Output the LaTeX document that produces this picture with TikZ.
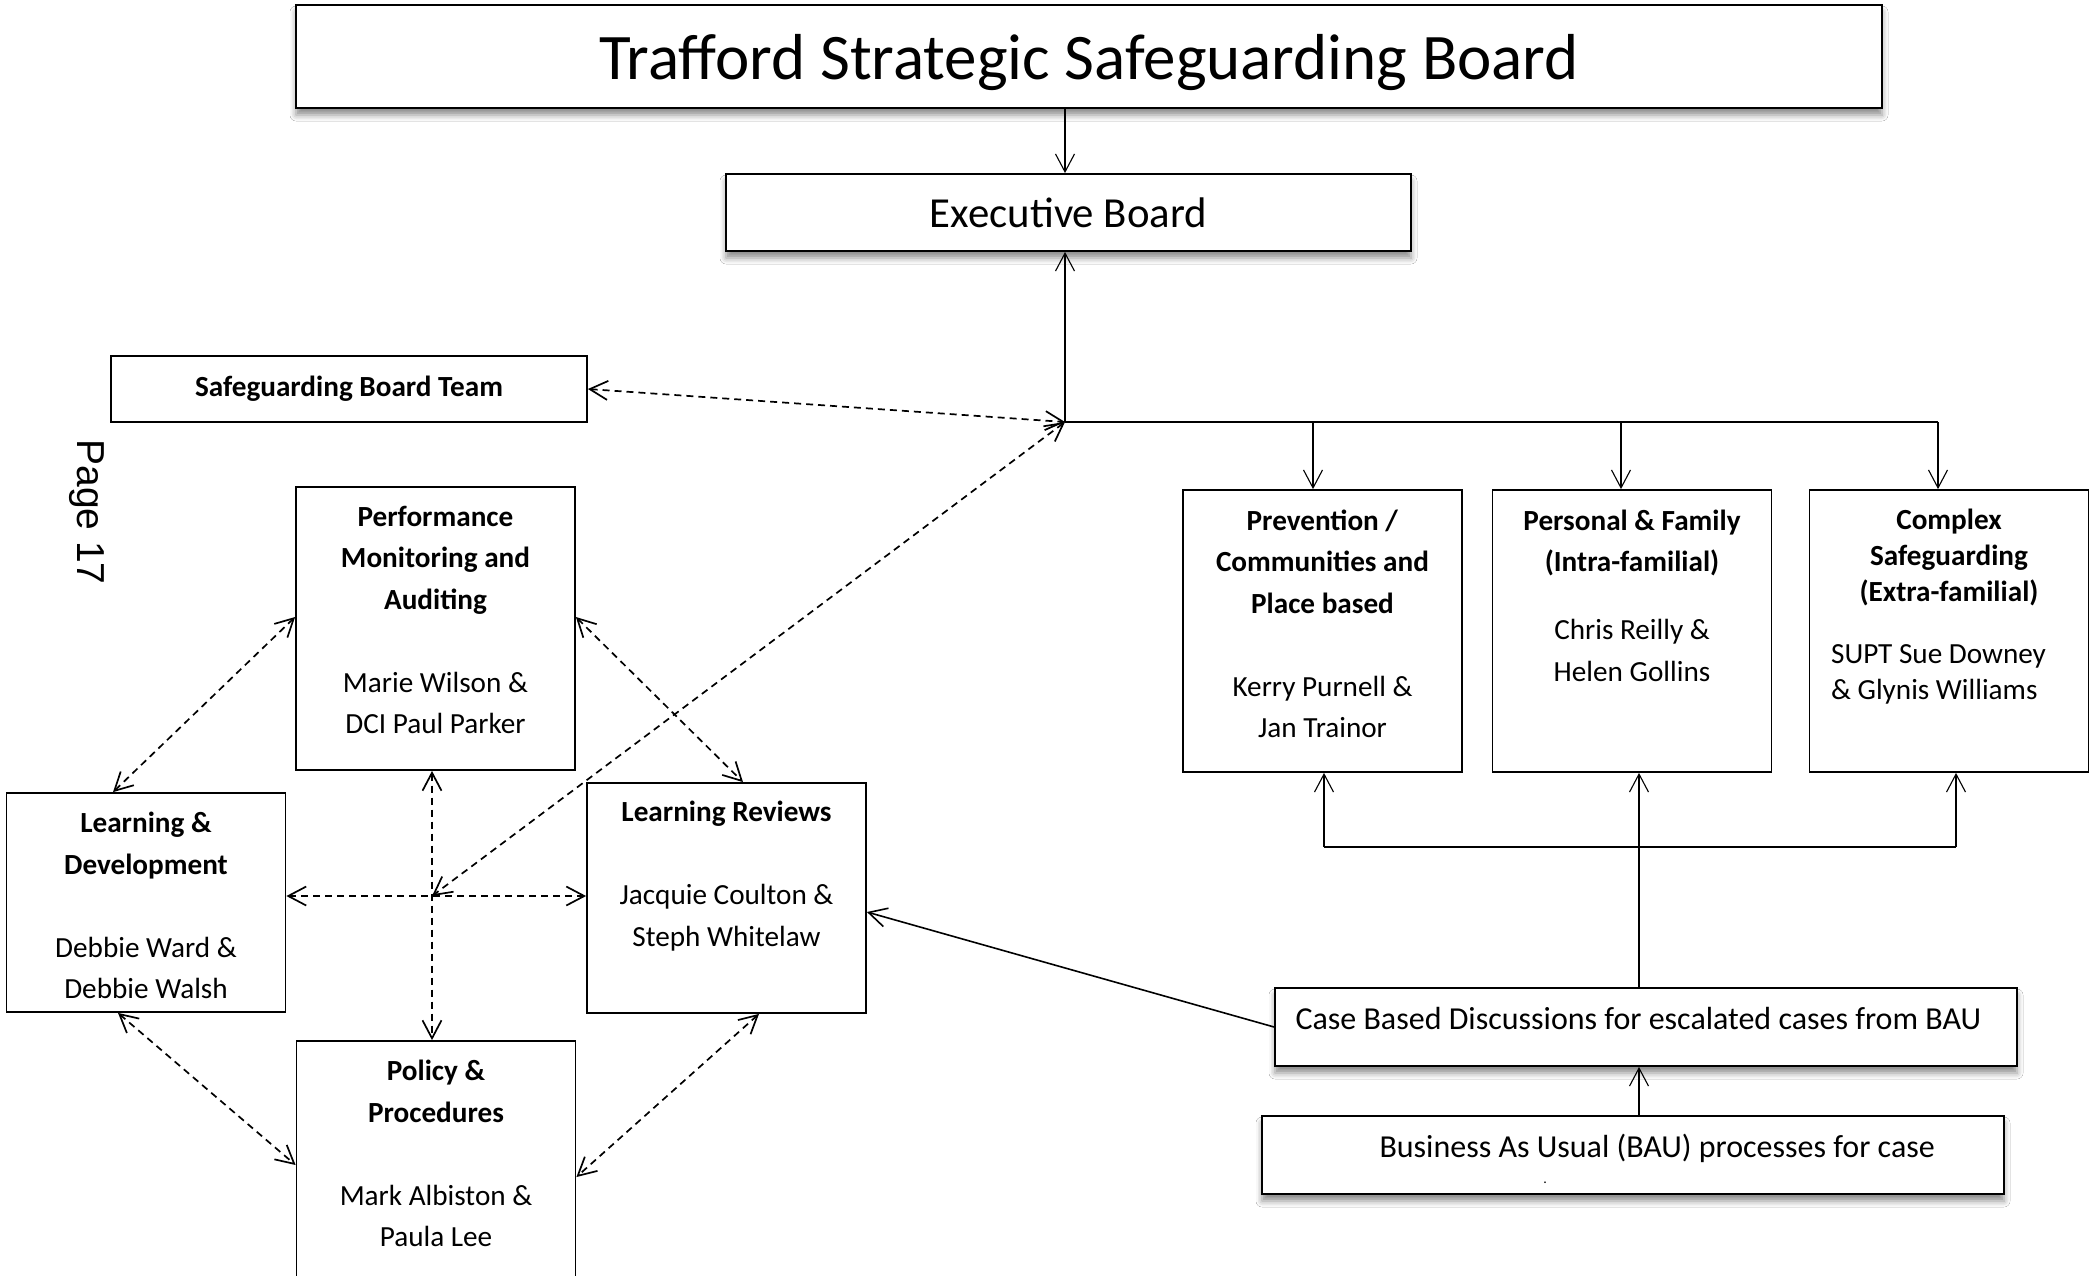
\documentclass[tikz,border=0pt]{standalone}
\usepackage{fontspec}
\setmainfont{Carlito}
\newfontfamily\pagefont{Liberation Sans}
\usepackage{tikz}
\usetikzlibrary{arrows.meta}
\usetikzlibrary{shadows.blur}

\begin{document}
\begin{tikzpicture}[
        x=0.5pt, y=-0.5pt,
        unit/.style={draw, line width=0.9pt, minimum width=139.5pt, minimum height=141pt, inner sep=0pt},
        lifted/.style={fill=white, blur shadow={shadow xshift=0pt, shadow yshift=-3.5pt, shadow blur radius=3pt, shadow opacity=45}},
        boxtext/.style={align=center, inner sep=0pt, font=\fontsize{14.6}{20.75}\selectfont},
        arr/.style={line width=0.55pt, -{Straight Barb[length=9pt, width=9.5pt]}},
        twoway/.style={line width=0.85pt, dash pattern=on 3.5pt off 2.5pt,
            {Straight Barb[length=9pt, width=9.5pt]}-{Straight Barb[length=9pt, width=9.5pt]}},
        ]
        \useasboundingbox[fill=white] (0,0) rectangle (2091,1275);

        \node[draw, line width=1pt, lifted, minimum width=793pt, minimum height=51.5pt, text depth=0pt,
            font=\fontsize{32.5}{38}\selectfont] (board) at (1089,56.5) {Trafford Strategic Safeguarding Board};
        \node[draw, line width=0.9pt, lifted, minimum width=342.5pt, minimum height=38.5pt,
            font=\fontsize{21.4}{26}\selectfont] (exec) at (1068.5,212.5) {Executive Board};
        \node[draw, line width=0.9pt, minimum width=238pt, minimum height=33pt,
            font=\bfseries\fontsize{14.6}{18}\selectfont] (sbt) at (349,389) {Safeguarding Board Team};
        \node[rotate=-90, font=\pagefont\fontsize{19.5}{22}\selectfont] (page) at (87,512) {Page 17};

        \coordinate (hub) at (1065,422);
        \coordinate (cross) at (432,896);

        % sub groups on the left
        \node[unit, minimum height=141.5pt] (perf) at (435.5,628.5) {};
        \node[unit, minimum height=109.5pt] (ld) at (146,902.5) {};
        \node[unit, minimum height=115pt] (lr) at (726.5,898) {};
        \node[unit, minimum height=150pt] (pol) at (436,1191) {};

        \node[boxtext, yshift=4.25pt] (perftext) at (perf) {\textbf{Performance}\\\textbf{Monitoring and}\\\textbf{Auditing}\\[20.75pt]Marie Wilson \&\\DCI Paul Parker};
        \node[boxtext, yshift=-1.5pt] (ldtext) at (ld) {\textbf{Learning \&}\\\textbf{Development}\\[20.75pt]Debbie Ward \&\\Debbie Walsh};
        \node[boxtext, yshift=11pt] (lrtext) at (lr) {\textbf{Learning Reviews}\\[20.75pt]Jacquie Coulton \&\\Steph Whitelaw};
        \node[boxtext, yshift=18.75pt] (poltext) at (pol) {\textbf{Policy \&}\\\textbf{Procedures}\\[20.75pt]Mark Albiston \&\\Paula Lee};

        % strategic priority groups
        \node[unit] (prev) at (1322.5,631) {};
        \node[unit] (pers) at (1632,631) {};
        \node[unit] (comp) at (1949,631) {};

        \node[boxtext, yshift=3.5pt] (prevtext) at (prev) {\textbf{Prevention /}\\\textbf{Communities and}\\\textbf{Place based}\\[20.75pt]Kerry Purnell \&\\Jan Trainor};
        \node[boxtext, yshift=17.75pt] (perstext) at (pers) {\textbf{Personal \& Family}\\\textbf{(Intra-familial)}\\[13.25pt]Chris Reilly \&\\Helen Gollins};
        \node[boxtext, yshift=10.75pt, font=\fontsize{14.6}{18}\selectfont] (comptext) at (comp) {\textbf{Complex}\\\textbf{Safeguarding}\\\textbf{(Extra-familial)}\\[13pt]\hspace*{-10.5pt}\begin{tabular}[t]{@{}l@{}}SUPT Sue Downey\\\& Glynis Williams\end{tabular}};

        \node[unit, lifted, minimum width=371pt, minimum height=39pt] (case) at (1646,1027) {};
        \node[unit, lifted, minimum width=371pt, minimum height=39pt] (bau) at (1633,1155) {};
        \node[boxtext, anchor=west, font=\fontsize{16}{20}\selectfont] (casetext) at ([xshift=10.5pt, yshift=4.5pt]case.west) {Case Based Discussions for escalated cases from BAU};
        \node[boxtext, anchor=west, font=\fontsize{16}{20}\selectfont] (bautext) at ([xshift=59pt, yshift=3.5pt]bau.west) {Business As Usual (BAU) processes for case};
        \node[inner sep=0pt, font=\fontsize{7}{7}\selectfont] (baudot) at (1545,1183) {.};

        % reporting lines
        \draw[arr] (board.south -| hub) -- (exec.north -| hub);
        \draw[arr] (hub) -- (exec.south -| hub);

        \coordinate (t1) at ([xshift=-4.75pt]prev.north);
        \coordinate (t2) at ([xshift=-5.5pt]pers.north);
        \coordinate (t3) at ([xshift=-5.5pt]comp.north);
        \draw[line width=0.55pt] (hub) -- (t3 |- hub);
        \foreach \t in {t1,t2,t3}
            \draw[arr] (\t |- hub) -- (\t);

        \coordinate (low) at (1639,847);
        \coordinate (b1) at ([xshift=0.75pt]prev.south);
        \coordinate (b3) at ([xshift=3.5pt]comp.south);
        \draw[line width=0.55pt] (b1 |- low) -- (b3 |- low);
        \foreach \b in {b1,b3}
            \draw[arr] (\b |- low) -- (\b);
        \draw[arr] (low |- case.north) -- (low |- pers.south);
        \draw[arr] (low |- bau.north) -- (low |- case.south);
        \draw[arr, line width=0.8pt] (case.west) -- ([yshift=-7pt]lr.east);

        % two way links
        \draw[twoway] (sbt.east) -- (hub);
        \draw[twoway] (hub) -- (cross);
        \draw[twoway] ([yshift=5.75pt]perf.west) -- ([xshift=-16.5pt]ld.north);
        \draw[twoway] ([yshift=5.75pt]perf.east) -- ([xshift=8.25pt]lr.north);
        \draw[twoway] (perf.south -| cross) -- (pol.north -| cross);
        \draw[twoway] (ld.east |- cross) -- (lr.west |- cross);
        \draw[twoway] ([xshift=-14pt]ld.south) -- ([yshift=13pt]pol.west);
        \draw[twoway] ([xshift=16.25pt]lr.south) -- ([yshift=7pt]pol.east);
    \end{tikzpicture}
\end{document}
